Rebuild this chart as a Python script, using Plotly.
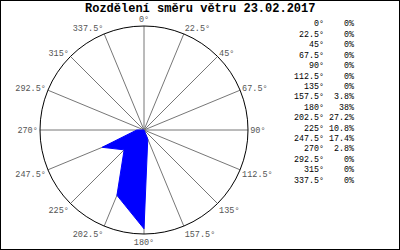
import plotly.graph_objects as go

directions = [0, 22.5, 45, 67.5, 90, 112.5, 135, 157.5, 180, 202.5, 225, 247.5, 270, 292.5, 315, 337.5]
dir_labels = ["0°", "22.5°", "45°", "67.5°", "90°", "112.5°", "135°", "157.5°", "180°",
              "202.5°", "225°", "247.5°", "270°", "292.5°", "315°", "337.5°"]
percent = [0, 0, 0, 0, 0, 0, 0, 3.8, 38, 27.2, 10.8, 17.4, 2.8, 0, 0, 0]
pct_labels = ["0%", "0%", "0%", "0%", "0%", "0%", "0%", "3.8%", "38%", "27.2%", "10.8%",
              "17.4%", "2.8%", "0%", "0%", "0%"]
title_text = "Rozdělení směru větru 23.02.2017"

MONO = "Liberation Mono"

fig = go.Figure()
fig.add_trace(go.Scatterpolar(
    r=percent + [percent[0]],
    theta=directions + [directions[0]],
    mode="lines",
    fill="toself",
    fillcolor="#0000ff",
    line=dict(color="#0000ff", width=1),
    hoverinfo="skip",
    showlegend=False,
))

W, H = 400, 250
annotations = []
row0, step = 24, 10.4
for i, (d, p) in enumerate(zip(dir_labels, pct_labels)):
    y = 1 - (row0 + step * i) / H
    annotations.append(dict(x=326 / W, y=y, xref="paper", yref="paper", text=d,
                            xanchor="right", yanchor="middle", showarrow=False,
                            font=dict(family=MONO, size=8.3, color="black")))
    annotations.append(dict(x=356 / W, y=y, xref="paper", yref="paper", text=p,
                            xanchor="right", yanchor="middle", showarrow=False,
                            font=dict(family=MONO, size=8.3, color="black")))

annotations.append(dict(x=200 / W, y=1 - 9 / H, xref="paper", yref="paper", text="<b>" + title_text + "</b>",
                        xanchor="center", yanchor="middle", showarrow=False,
                        font=dict(family=MONO, size=12, color="black")))

fig.update_layout(
    width=W, height=H,
    margin=dict(l=0, r=0, t=0, b=0),
    paper_bgcolor="white",
    plot_bgcolor="white",
    annotations=annotations,
    shapes=[dict(type="rect", xref="paper", yref="paper", x0=0, x1=1, y0=0, y1=1,
                 line=dict(color="black", width=2), fillcolor="rgba(0,0,0,0)")],
    polar=dict(
        domain=dict(x=[40 / W, 248 / W], y=[1 - 234 / H, 1 - 26 / H]),
        bgcolor="white",
        radialaxis=dict(visible=False, range=[0, 40]),
        angularaxis=dict(
            direction="clockwise", rotation=90,
            tickmode="array", tickvals=directions, ticktext=dir_labels,
            showline=True, linecolor="black", linewidth=1,
            showgrid=True, gridcolor="#777777", gridwidth=1,
            ticks="", tickfont=dict(family=MONO, size=8.5, color="#555555"),
        ),
    ),
)

fig.write_html("out.html")
